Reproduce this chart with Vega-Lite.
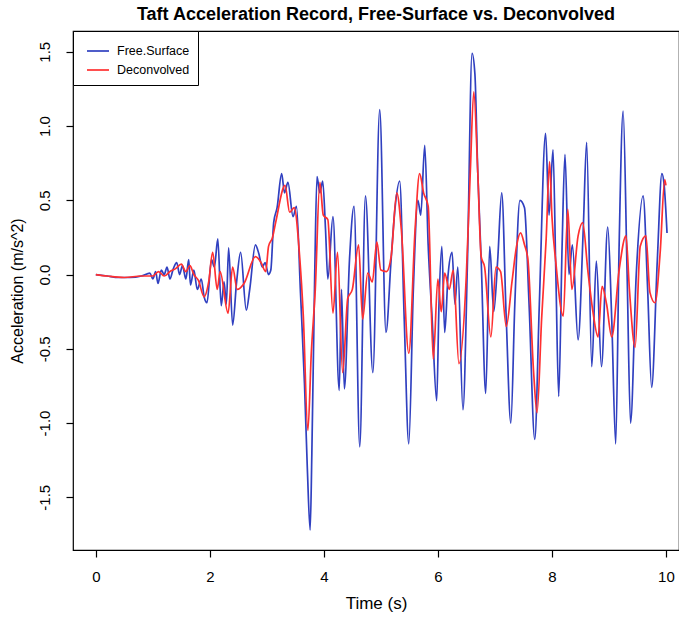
{
  "$schema": "https://vega.github.io/schema/vega-lite/v6.json",
  "width": 606,
  "height": 519,
  "autosize": {"type": "none"},
  "padding": {"left": 73, "top": 31, "right": 0, "bottom": 67},
  "background": "white",
  "title": {"text": "Taft Acceleration Record, Free-Surface vs. Deconvolved", "font": "Liberation Sans", "fontSize": 18, "fontWeight": "bold", "color": "black", "anchor": "middle", "offset": 7},
  "datasets": {
    "blue": [
      {"t":0.00,"a":0.00},{"t":0.20,"a":-0.01},{"t":0.40,"a":-0.02},{"t":0.60,"a":-0.02},{"t":0.80,"a":-0.01},{"t":0.95,"a":0.01},{"t":1.00,"a":-0.03},{"t":1.05,"a":0.02},{"t":1.09,"a":-0.06},{"t":1.15,"a":0.03},{"t":1.20,"a":0.00},{"t":1.25,"a":0.05},{"t":1.30,"a":-0.03},{"t":1.36,"a":0.04},{"t":1.42,"a":0.08},{"t":1.47,"a":0.00},{"t":1.52,"a":0.06},{"t":1.58,"a":-0.03},{"t":1.63,"a":0.10},{"t":1.66,"a":-0.07},{"t":1.72,"a":0.03},{"t":1.78,"a":-0.10},{"t":1.85,"a":-0.03},{"t":1.90,"a":-0.15},{"t":1.95,"a":-0.19},{"t":2.03,"a":0.10},{"t":2.08,"a":0.05},{"t":2.14,"a":0.24},{"t":2.20,"a":-0.21},{"t":2.25,"a":-0.05},{"t":2.29,"a":-0.20},{"t":2.33,"a":0.18},{"t":2.40,"a":-0.34},{"t":2.47,"a":-0.05},{"t":2.54,"a":0.15},{"t":2.64,"a":-0.24},{"t":2.70,"a":-0.10},{"t":2.80,"a":0.20},{"t":2.86,"a":0.14},{"t":2.92,"a":0.05},{"t":2.97,"a":0.08},{"t":3.03,"a":0.00},{"t":3.07,"a":0.03},{"t":3.12,"a":0.35},{"t":3.18,"a":0.45},{"t":3.26,"a":0.68},{"t":3.31,"a":0.55},{"t":3.37,"a":0.62},{"t":3.46,"a":0.39},{"t":3.52,"a":0.46},{"t":3.59,"a":-0.12},{"t":3.66,"a":-0.73},{"t":3.71,"a":-1.30},{"t":3.76,"a":-1.72},{"t":3.79,"a":-1.20},{"t":3.84,"a":0.00},{"t":3.88,"a":0.66},{"t":3.93,"a":0.55},{"t":3.98,"a":0.63},{"t":4.03,"a":0.30},{"t":4.07,"a":-0.03},{"t":4.16,"a":0.39},{"t":4.27,"a":-0.78},{"t":4.31,"a":-0.10},{"t":4.36,"a":-0.77},{"t":4.45,"a":0.10},{"t":4.53,"a":0.46},{"t":4.63,"a":-1.16},{"t":4.73,"a":0.53},{"t":4.86,"a":-0.66},{"t":4.98,"a":1.11},{"t":5.09,"a":-0.39},{"t":5.18,"a":0.10},{"t":5.25,"a":0.45},{"t":5.33,"a":0.63},{"t":5.41,"a":-0.30},{"t":5.49,"a":-1.14},{"t":5.57,"a":-0.10},{"t":5.65,"a":0.50},{"t":5.70,"a":0.40},{"t":5.77,"a":0.87},{"t":5.83,"a":0.20},{"t":5.90,"a":-0.30},{"t":5.98,"a":-0.85},{"t":6.02,"a":-0.20},{"t":6.07,"a":0.19},{"t":6.12,"a":-0.39},{"t":6.18,"a":0.00},{"t":6.25,"a":0.15},{"t":6.30,"a":-0.20},{"t":6.35,"a":0.05},{"t":6.44,"a":-0.91},{"t":6.52,"a":0.10},{"t":6.60,"a":1.49},{"t":6.65,"a":1.35},{"t":6.70,"a":0.69},{"t":6.76,"a":0.10},{"t":6.84,"a":-0.80},{"t":6.91,"a":0.19},{"t":6.98,"a":-0.25},{"t":7.05,"a":0.10},{"t":7.12,"a":0.55},{"t":7.20,"a":-0.30},{"t":7.28,"a":-1.00},{"t":7.35,"a":-0.20},{"t":7.44,"a":0.50},{"t":7.52,"a":0.45},{"t":7.60,"a":-0.20},{"t":7.70,"a":-1.11},{"t":7.78,"a":-0.20},{"t":7.89,"a":0.95},{"t":7.95,"a":0.40},{"t":8.02,"a":0.84},{"t":8.07,"a":0.00},{"t":8.12,"a":-0.82},{"t":8.18,"a":0.20},{"t":8.23,"a":0.81},{"t":8.30,"a":0.00},{"t":8.36,"a":0.20},{"t":8.46,"a":-0.44},{"t":8.55,"a":0.30},{"t":8.61,"a":0.89},{"t":8.70,"a":-0.62},{"t":8.78,"a":0.09},{"t":8.87,"a":-0.62},{"t":8.98,"a":0.32},{"t":9.05,"a":-0.30},{"t":9.12,"a":-1.14},{"t":9.18,"a":0.20},{"t":9.25,"a":1.10},{"t":9.32,"a":0.00},{"t":9.38,"a":-1.00},{"t":9.48,"a":0.00},{"t":9.60,"a":0.53},{"t":9.68,"a":-0.10},{"t":9.75,"a":-0.76},{"t":9.85,"a":0.10},{"t":9.93,"a":0.68},{"t":9.97,"a":0.60},{"t":10.02,"a":0.28}
    ],
    "red": [
      {"t":0.00,"a":0.00},{"t":0.20,"a":-0.01},{"t":0.50,"a":-0.02},{"t":0.80,"a":-0.01},{"t":1.00,"a":-0.01},{"t":1.10,"a":0.02},{"t":1.20,"a":-0.01},{"t":1.30,"a":0.02},{"t":1.40,"a":0.04},{"t":1.50,"a":0.07},{"t":1.58,"a":0.02},{"t":1.65,"a":0.06},{"t":1.72,"a":0.00},{"t":1.80,"a":-0.04},{"t":1.90,"a":-0.15},{"t":1.98,"a":-0.05},{"t":2.05,"a":0.15},{"t":2.13,"a":-0.10},{"t":2.18,"a":0.02},{"t":2.32,"a":-0.26},{"t":2.40,"a":0.05},{"t":2.48,"a":-0.10},{"t":2.60,"a":-0.06},{"t":2.80,"a":0.12},{"t":2.90,"a":0.08},{"t":2.98,"a":0.02},{"t":3.03,"a":0.19},{"t":3.10,"a":0.25},{"t":3.16,"a":0.36},{"t":3.32,"a":0.60},{"t":3.40,"a":0.42},{"t":3.48,"a":0.45},{"t":3.57,"a":0.15},{"t":3.64,"a":-0.28},{"t":3.72,"a":-1.05},{"t":3.78,"a":-0.53},{"t":3.85,"a":-0.10},{"t":3.93,"a":0.62},{"t":3.99,"a":0.40},{"t":4.07,"a":0.37},{"t":4.16,"a":-0.26},{"t":4.24,"a":0.15},{"t":4.33,"a":-0.66},{"t":4.42,"a":-0.16},{"t":4.50,"a":-0.10},{"t":4.61,"a":0.20},{"t":4.68,"a":-0.30},{"t":4.77,"a":0.01},{"t":4.85,"a":-0.05},{"t":4.93,"a":0.22},{"t":5.00,"a":0.03},{"t":5.10,"a":0.02},{"t":5.18,"a":0.12},{"t":5.28,"a":0.55},{"t":5.36,"a":0.30},{"t":5.49,"a":-0.53},{"t":5.60,"a":0.30},{"t":5.68,"a":0.68},{"t":5.75,"a":0.55},{"t":5.83,"a":0.46},{"t":5.92,"a":-0.57},{"t":6.00,"a":-0.03},{"t":6.06,"a":-0.25},{"t":6.12,"a":0.01},{"t":6.20,"a":-0.10},{"t":6.27,"a":0.03},{"t":6.37,"a":-0.60},{"t":6.50,"a":0.00},{"t":6.57,"a":0.70},{"t":6.63,"a":1.23},{"t":6.70,"a":0.69},{"t":6.76,"a":0.12},{"t":6.82,"a":0.05},{"t":6.93,"a":-0.42},{"t":7.02,"a":0.05},{"t":7.10,"a":0.02},{"t":7.20,"a":-0.35},{"t":7.30,"a":-0.05},{"t":7.38,"a":0.19},{"t":7.45,"a":0.28},{"t":7.52,"a":0.20},{"t":7.58,"a":0.10},{"t":7.68,"a":-0.66},{"t":7.74,"a":-0.93},{"t":7.82,"a":-0.30},{"t":7.90,"a":0.24},{"t":7.96,"a":0.76},{"t":8.00,"a":0.40},{"t":8.07,"a":0.08},{"t":8.20,"a":-0.28},{"t":8.28,"a":0.44},{"t":8.35,"a":-0.10},{"t":8.46,"a":0.26},{"t":8.54,"a":0.35},{"t":8.63,"a":0.03},{"t":8.72,"a":-0.25},{"t":8.81,"a":-0.42},{"t":8.88,"a":-0.08},{"t":8.96,"a":-0.20},{"t":9.05,"a":-0.42},{"t":9.18,"a":0.03},{"t":9.30,"a":0.26},{"t":9.36,"a":-0.10},{"t":9.46,"a":-0.49},{"t":9.55,"a":0.19},{"t":9.65,"a":0.26},{"t":9.72,"a":-0.12},{"t":9.81,"a":-0.19},{"t":9.90,"a":0.15},{"t":9.98,"a":0.64},{"t":10.00,"a":0.60}
    ]
  },
  "layer": [
    {
      "data": {"name": "blue"},
      "transform": [{"calculate": "'Free.Surface'", "as": "series"}],
      "mark": {"type": "line", "strokeWidth": 1.7, "clip": true, "interpolate": "monotone"},
      "encoding": {
        "x": {"field": "t", "type": "quantitative", "scale": {"domain": [-0.4, 10.23], "nice": false, "zero": false},
              "axis": {"values": [0, 2, 4, 6, 8, 10], "format": "d", "title": "Time (s)", "labelPadding": 12, "titlePadding": 11, "titleFontSize": 17}},
        "y": {"field": "a", "type": "quantitative", "scale": {"domain": [-1.855, 1.64], "nice": false, "zero": false},
              "axis": {"values": [-1.5, -1, -0.5, 0, 0.5, 1, 1.5], "labelExpr": "datum.value < 0 ? '-' + format(-datum.value, '.1f') : format(datum.value, '.1f')",
                       "labelAngle": 270, "labelAlign": "center", "labelBaseline": "bottom", "labelPadding": 14, "title": "Acceleration (m/s^2)", "titlePadding": 12}},
        "color": {"field": "series", "type": "nominal",
                  "scale": {"domain": ["Free.Surface", "Deconvolved"], "range": ["#3040c0", "#ff3030"]},
                  "legend": {"title": null, "orient": "top-left", "offset": 0, "symbolType": "stroke", "symbolSize": 484, "symbolStrokeWidth": 1.7,
                             "labelFontSize": 12.5, "labelFont": "Liberation Sans", "labelColor": "black", "padding": 8, "symbolOffset": 5, "labelOffset": 7,
                             "rowPadding": -3, "strokeColor": "black", "fillColor": "white"}}
      }
    },
    {
      "data": {"name": "red"},
      "transform": [{"calculate": "'Deconvolved'", "as": "series"}],
      "mark": {"type": "line", "strokeWidth": 1.7, "clip": true, "interpolate": "monotone"},
      "encoding": {
        "x": {"field": "t", "type": "quantitative"},
        "y": {"field": "a", "type": "quantitative"},
        "color": {"field": "series", "type": "nominal"}
      }
    }
  ],
  "config": {
    "view": {"stroke": "black", "strokeWidth": 1.2},
    "axis": {"grid": false, "domain": false, "tickColor": "black", "tickSize": 7, "tickWidth": 1.2,
             "labelFont": "Liberation Sans", "labelFontSize": 15, "labelColor": "black",
             "titleFont": "Liberation Sans", "titleFontSize": 16, "titleFontWeight": "normal", "titleColor": "black"}
  }
}
